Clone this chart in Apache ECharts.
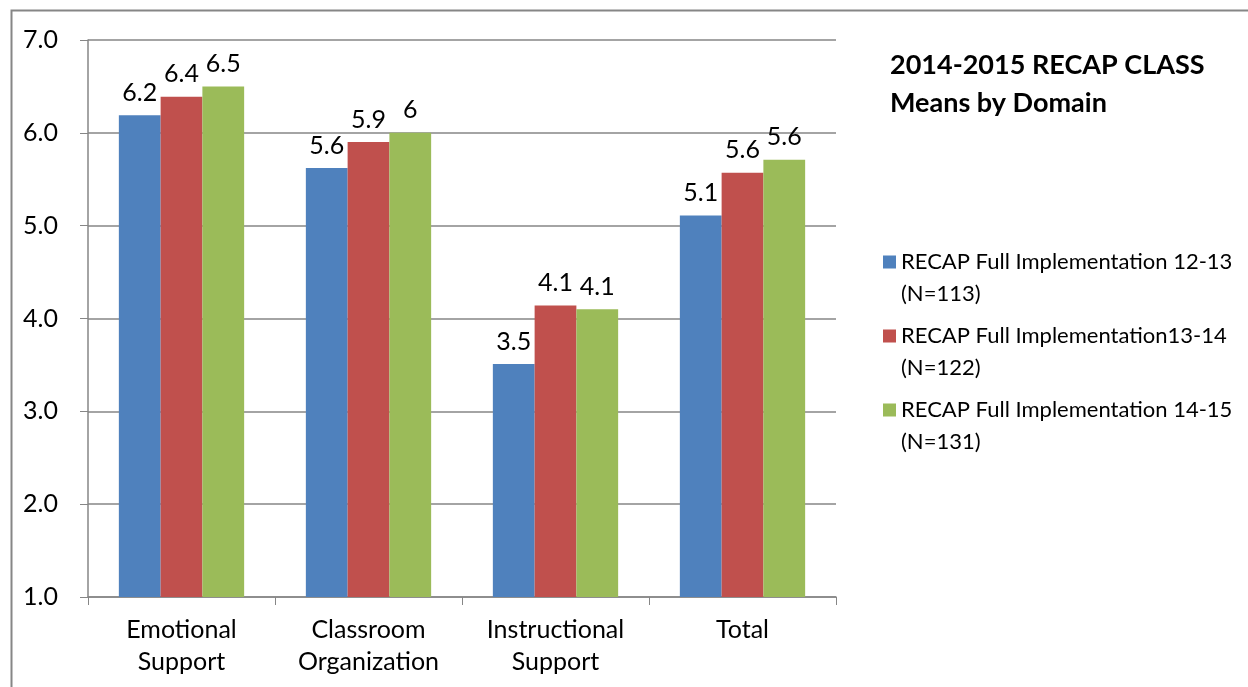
<!DOCTYPE html>
<html>
<head>
<meta charset="utf-8">
<script src="https://cdn.jsdelivr.net/npm/echarts@6/dist/echarts.min.js"></script>
<style>
html, body { margin: 0; padding: 0; background: #fff; }
#chart { width: 1248px; height: 687px; }
</style>
</head>
<body>
<div id="chart"></div>
<script>
var categories = ['Emotional\nSupport', 'Classroom\nOrganization', 'Instructional\nSupport', 'Total'];
var seriesNames = [
    'RECAP Full Implementation 12-13\n(N=113)',
    'RECAP Full Implementation13-14\n(N=122)',
    'RECAP Full Implementation 14-15\n(N=131)'
];
var values1213 = [6.19, 5.62, 3.51, 5.11];
var values1314 = [6.39, 5.90, 4.14, 5.57];
var values1415 = [6.50, 6.00, 4.10, 5.71];
var labels1213 = ['6.2', '5.6', '3.5', '5.1'];
var labels1314 = ['6.4', '5.9', '4.1', '5.6'];
var labels1415 = ['6.5', '6', '4.1', '5.6'];
var colors = ['#4f81bd', '#c0504d', '#9bbb59'];

var font = 'Lato, "Open Sans", sans-serif';

function makeSeries(name, vals, labs, color) {
    return {
        name: name,
        type: 'bar',
        data: vals,
        barGap: 0,
        barCategoryGap: '33%',
        itemStyle: { color: color },
        label: {
            show: true,
            position: 'top',
            distance: 10,
            color: '#000',
            fontSize: 25,
            fontFamily: font,
            formatter: function(p) { return labs[p.dataIndex]; }
        }
    };
}

var myChart = echarts.init(document.getElementById('chart'));
var option = {
    animation: false,
    textStyle: { fontFamily: font },
    graphic: [{
        type: 'rect',
        shape: { x: 11.5, y: 10.5, width: 1300, height: 700 },
        style: { fill: 'none', stroke: '#868686', lineWidth: 2 }
    }],
    title: {
        text: '2014-2015 RECAP CLASS\nMeans by Domain',
        left: 885,
        top: 41,
        textStyle: { fontSize: 27, fontWeight: 'bold', color: '#000', lineHeight: 38, fontFamily: font }
    },
    legend: {
        orient: 'vertical',
        left: 878,
        top: 241,
        itemWidth: 13,
        itemHeight: 45,
        itemGap: 10,
        icon: 'path://M0,0L13,0L13,13L0,13Z M0,45L13,45',
        data: seriesNames,
        textStyle: { fontSize: 22, color: '#000', lineHeight: 32, fontFamily: font }
    },
    grid: { left: 88, right: 412, top: 40, bottom: 90 },
    xAxis: {
        type: 'category',
        data: categories,
        axisLine: { lineStyle: { color: '#868686', width: 1.5 } },
        axisTick: { show: true, length: 8, lineStyle: { color: '#868686' } },
        axisLabel: { color: '#000', fontSize: 25, lineHeight: 32, margin: 17, fontFamily: font }
    },
    yAxis: {
        type: 'value',
        min: 1,
        max: 7,
        interval: 1,
        axisLine: { show: true, lineStyle: { color: '#868686', width: 1.5 } },
        axisTick: { show: true, length: 8, inside: false, lineStyle: { color: '#868686' } },
        splitLine: { lineStyle: { color: '#868686', width: 1.5 } },
        axisLabel: {
            color: '#000', fontSize: 25, margin: 30, fontFamily: font,
            formatter: function(v) { return v.toFixed(1); }
        }
    },
    series: [
        makeSeries(seriesNames[0], values1213, labels1213, colors[0]),
        makeSeries(seriesNames[1], values1314, labels1314, colors[1]),
        makeSeries(seriesNames[2], values1415, labels1415, colors[2])
    ]
};
myChart.setOption(option);
</script>
</body>
</html>
